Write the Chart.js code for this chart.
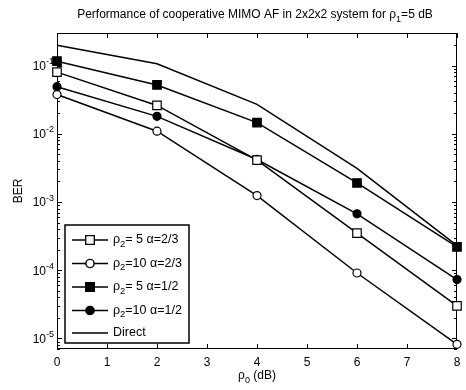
<!DOCTYPE html>
<html>
<head>
<meta charset="utf-8">
<script src="https://cdn.jsdelivr.net/npm/chart.js@4.4.1/dist/chart.umd.min.js"></script>
<style>
  body { margin: 0; background: #fff; }
  canvas { display: block; }
</style>
</head>
<body>
<canvas id="berChart" width="466" height="390"></canvas>
<script>
// rho_0 (dB)
var snr = [0, 2, 4, 6, 8];
// BER curves
var berRho5a23 = [0.08, 0.026, 0.0041, 3.5e-4, 3.0e-5];
var berRho10a23 = [0.0376, 0.0109, 1.24e-3, 9.1e-5, 8.2e-6];
var berRho5a12 = [0.116, 0.052, 0.0146, 0.0019, 2.2e-4];
var berRho10a12 = [0.049, 0.018, 0.0042, 6.7e-4, 7.3e-5];
var berDirect = [0.198, 0.106, 0.027, 0.0031, 2.3e-4];
var xTicks = [0, 1, 2, 3, 4, 5, 6, 7, 8];
var yDecades = [-1, -2, -3, -4, -5];

var FONT = "'Liberation Sans', Arial, Helvetica, sans-serif";

function pts(arr) {
    return snr.map(function(x, i) { return { x: x, y: arr[i] }; });
}

// draw text made of normal / sub / sup pieces
function richText(ctx, x, y, parts, align, size) {
    var total = 0;
    parts.forEach(function(p) {
        ctx.font = (p.sub || p.sup ? size * 0.75 : size) + "px " + FONT;
        p.w = ctx.measureText(p.t).width;
        total += p.w;
    });
    var cx = x;
    if (align === "center") cx = x - total / 2;
    if (align === "right") cx = x - total;
    ctx.textAlign = "left";
    ctx.textBaseline = "middle";
    parts.forEach(function(p) {
        ctx.font = (p.sub || p.sup ? size * 0.75 : size) + "px " + FONT;
        var dy = p.sub ? size * 0.35 : (p.sup ? -size * 0.4 : 0);
        ctx.fillText(p.t, cx, y + dy);
        cx += p.w;
    });
}

var legendLabels = [
    [{ t: "\u03c1" }, { t: "2", sub: true }, { t: "= 5 \u03b1=2/3" }],
    [{ t: "\u03c1" }, { t: "2", sub: true }, { t: "=10 \u03b1=2/3" }],
    [{ t: "\u03c1" }, { t: "2", sub: true }, { t: "= 5 \u03b1=1/2" }],
    [{ t: "\u03c1" }, { t: "2", sub: true }, { t: "=10 \u03b1=1/2" }],
    [{ t: "Direct" }]
];

var framePlugin = {
    id: "framePlugin",
    beforeDatasetsDraw: function(chart) {
        var ctx = chart.ctx;
        var a = chart.chartArea;
        var xs = chart.scales.x, ys = chart.scales.y;
        ctx.save();
        ctx.strokeStyle = "#000";
        ctx.fillStyle = "#000";
        ctx.lineWidth = 1;
        ctx.strokeRect(a.left + 0.5, a.top + 0.5, a.right - a.left - 1, a.bottom - a.top - 1);
        ctx.beginPath();
        xTicks.forEach(function(v) {
            var px = Math.round(xs.getPixelForValue(v)) + 0.5;
            ctx.moveTo(px, a.bottom); ctx.lineTo(px, a.bottom - 5);
            ctx.moveTo(px, a.top); ctx.lineTo(px, a.top + 5);
        });
        for (var e = -6; e <= 0; e++) {
            for (var m = 1; m <= 9; m++) {
                var v = m * Math.pow(10, e);
                if (v < ys.min || v > ys.max) continue;
                var py = Math.round(ys.getPixelForValue(v)) + 0.5;
                var len = m === 1 ? 5 : 3;
                ctx.moveTo(a.left, py); ctx.lineTo(a.left + len, py);
                ctx.moveTo(a.right, py); ctx.lineTo(a.right - len, py);
            }
        }
        ctx.stroke();
        // y tick labels 10^k
        yDecades.forEach(function(k) {
            var py = ys.getPixelForValue(Math.pow(10, k));
            richText(ctx, 54, py + 1, [{ t: "10" }, { t: "-" + (-k), sup: true }], "right", 12);
        });
        // title and x label
        richText(ctx, 255, 15, [
            { t: "Performance of cooperative MIMO AF in 2x2x2 system for \u03c1" },
            { t: "1", sub: true }, { t: "=5 dB" }], "center", 12);
        richText(ctx, 257, 376, [{ t: "\u03c1" }, { t: "0", sub: true }, { t: " (dB)" }], "center", 12);
        ctx.restore();
    },
    afterDatasetsDraw: function(chart) {
        var ctx = chart.ctx;
        ctx.save();
        // legend box
        var lx = 65, ly = 225, lw = 124, lh = 118;
        ctx.fillStyle = "#fff";
        ctx.fillRect(lx, ly, lw, lh);
        ctx.strokeStyle = "#000";
        ctx.lineWidth = 1.5;
        ctx.strokeRect(lx, ly, lw, lh);
        var rows = [240, 263.5, 287, 310.5, 333];
        chart.data.datasets.forEach(function(ds, i) {
            var y = rows[i];
            ctx.strokeStyle = "#000";
            ctx.lineWidth = 1.5;
            ctx.beginPath();
            ctx.moveTo(72, y); ctx.lineTo(108, y);
            ctx.stroke();
            if (ds.pointStyle) {
                Chart.helpers.drawPoint(ctx, {
                    pointStyle: ds.pointStyle,
                    radius: ds.pointRadius,
                    rotation: 0,
                    borderWidth: 1.2
                }, 90, y);
                ctx.fillStyle = ds.pointBackgroundColor;
                ctx.strokeStyle = "#000";
                ctx.lineWidth = 1.2;
                ctx.fill();
                ctx.stroke();
            }
            ctx.fillStyle = "#000";
            richText(ctx, 113, y, legendLabels[i], "left", 12.5);
        });
        ctx.restore();
    }
};

function series(label, arr, style, fill, radius) {
    return {
        label: label,
        data: pts(arr),
        borderColor: "#000",
        borderWidth: 1.5,
        pointStyle: style,
        pointRadius: radius,
        pointBackgroundColor: fill,
        pointBorderColor: "#000",
        pointBorderWidth: 1.2,
        tension: 0,
        clip: false
    };
}

new Chart(document.getElementById("berChart"), {
    type: "line",
    data: {
        datasets: [
            series("rho2=5 a=2/3", berRho5a23, "rect", "#fff", 6),
            series("rho2=10 a=2/3", berRho10a23, "circle", "#fff", 4),
            series("rho2=5 a=1/2", berRho5a12, "rect", "#000", 6),
            series("rho2=10 a=1/2", berRho10a12, "circle", "#000", 4),
            series("Direct", berDirect, false, "#000", 0)
        ]
    },
    options: {
        responsive: false,
        animation: false,
        layout: { padding: { top: 33, right: 9, left: 0, bottom: 0 } },
        plugins: { legend: { display: false }, tooltip: { enabled: false } },
        scales: {
            x: {
                type: "linear",
                min: 0,
                max: 8,
                grid: { display: false },
                border: { display: false },
                ticks: {
                    stepSize: 1,
                    padding: -2,
                    color: "#000",
                    font: { family: FONT, size: 12 }
                },
                afterFit: function(s) { s.height = 41; }
            },
            y: {
                type: "logarithmic",
                min: 7e-6,
                max: 0.3,
                grid: { display: false },
                border: { display: false },
                ticks: { display: false },
                title: {
                    display: true,
                    text: "BER",
                    color: "#000",
                    font: { family: FONT, size: 12 },
                    padding: { top: 11, bottom: 0 }
                },
                afterFit: function(s) { s.width = 57; }
            }
        }
    },
    plugins: [framePlugin]
});
</script>
</body>
</html>
